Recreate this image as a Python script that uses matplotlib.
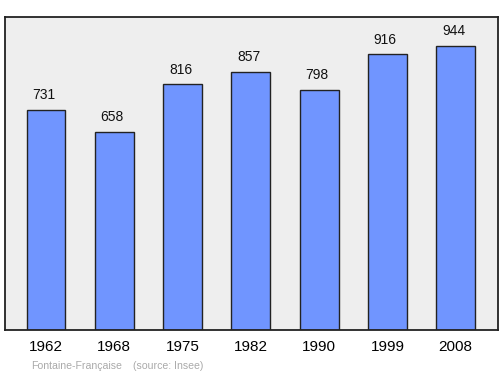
import matplotlib
matplotlib.use("Agg")
import matplotlib.pyplot as plt

years = ["1962", "1968", "1975", "1982", "1990", "1999", "2008"]
population = [731, 658, 816, 857, 798, 916, 944]

plt.rcParams['font.family'] = ['Liberation Sans', 'DejaVu Sans']

fig = plt.figure(figsize=(5.0, 3.74), dpi=100)
ax = fig.add_axes([0.01, 0.1176, 0.986, 0.837])
ax.set_facecolor('#eeeeee')

x = list(range(len(years)))
ax.bar(x, population, width=0.57, color='#7095ff', edgecolor='#222222', linewidth=1.0, zorder=2)
for xi, v in zip(x, population):
    ax.annotate(str(v), (xi, v), xytext=(-1.5, 5.5), textcoords='offset points',
                ha='center', va='bottom', fontsize=10, color='#111111')

ax.set_xlim(-0.6, 6.62)
ax.set_ylim(0, 1040)
ax.set_xticks(x)
ax.set_xticklabels(years, fontsize=11)
ax.tick_params(axis='x', length=0, pad=7.5)
ax.set_yticks([])
for s in ax.spines.values():
    s.set_linewidth(1.3)
    s.set_color('#222222')

fig.text(0.062, 0.021, "Fontaine-Française", fontsize=7.6, color='#aaaaaa', va='center')
fig.text(0.266, 0.021, "(source: Insee)", fontsize=7.6, color='#aaaaaa', va='center')

fig.savefig("out.png", dpi=100)
